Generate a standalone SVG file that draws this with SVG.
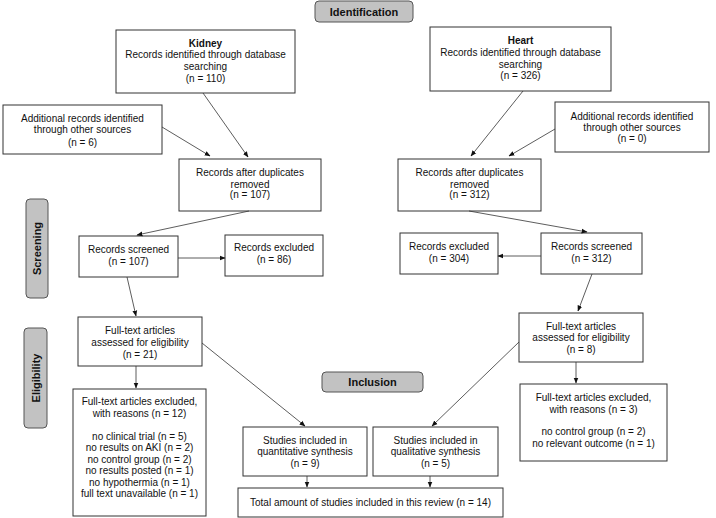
<svg xmlns="http://www.w3.org/2000/svg" width="716" height="518" viewBox="0 0 716 518">
<style>
.box{fill:#fff;stroke:#333;stroke-width:1}
.lab{fill:#c2c2c2;stroke:#555;stroke-width:1}
text{font-family:"Liberation Sans",Arial,sans-serif;font-size:10px;fill:#111;text-anchor:middle}
.b{font-weight:bold}
.lt{font-weight:bold;font-size:11px}
.c{stroke:#333;stroke-width:0.8;fill:none;marker-end:url(#ah)}
</style>
<defs>
<marker id="ah" viewBox="0 0 10 10" refX="9" refY="5" markerWidth="6" markerHeight="6" markerUnits="userSpaceOnUse" orient="auto">
<path d="M0,1 L10,5 L0,9 z" fill="#111"/>
</marker>
</defs>
<rect width="716" height="518" fill="#fff"/>

<g id="label-identification"><rect class="lab" x="315" y="1" width="98" height="21" rx="4"/><text class="lt" x="364" y="15.5">Identification</text></g>
<g id="label-screening"><rect class="lab" x="26" y="199" width="22" height="99" rx="4"/><text class="lt" transform="translate(41 248.5) rotate(-90)">Screening</text></g>
<g id="label-eligibility"><rect class="lab" x="24" y="328" width="23" height="100" rx="4"/><text class="lt" transform="translate(39.5 378) rotate(-90)">Eligibility</text></g>
<g id="label-inclusion"><rect class="lab" x="322" y="372" width="101" height="20" rx="4"/><text class="lt" x="372.5" y="386">Inclusion</text></g>

<g id="kidney-db"><rect class="box" x="116" y="30" width="179" height="63"/>
<text x="205.5" y="47" class="b">Kidney</text><text x="205.5" y="58">Records identified through database</text><text x="205.5" y="69.5">searching</text><text x="205.5" y="82">(n = 110)</text></g>
<g id="heart-db"><rect class="box" x="430" y="27" width="181" height="64"/>
<text x="520.5" y="44" class="b">Heart</text><text x="520.5" y="56">Records identified through database</text><text x="520.5" y="67.5">searching</text><text x="520.5" y="78.5">(n = 326)</text></g>
<g id="kidney-other"><rect class="box" x="3" y="105" width="159" height="49"/>
<text x="82.5" y="122">Additional records identified</text><text x="82.5" y="133">through other sources</text><text x="82.5" y="146">(n = 6)</text></g>
<g id="heart-other"><rect class="box" x="555" y="102" width="154" height="50"/>
<text x="632" y="119.5">Additional records identified</text><text x="632" y="131">through other sources</text><text x="632" y="142">(n = 0)</text></g>
<g id="kidney-dup"><rect class="box" x="179" y="159" width="142" height="52"/>
<text x="250" y="176">Records after duplicates</text><text x="250" y="187.5">removed</text><text x="250" y="198">(n = 107)</text></g>
<g id="heart-dup"><rect class="box" x="398" y="159" width="143" height="52"/>
<text x="469.5" y="176">Records after duplicates</text><text x="469.5" y="187.5">removed</text><text x="469.5" y="198">(n = 312)</text></g>
<g id="kidney-screened"><rect class="box" x="79" y="236" width="99" height="41"/>
<text x="128.5" y="253">Records screened</text><text x="128.5" y="264.5">(n = 107)</text></g>
<g id="kidney-excluded"><rect class="box" x="225" y="235" width="98" height="41"/>
<text x="274" y="251">Records excluded</text><text x="274" y="262.5">(n = 86)</text></g>
<g id="heart-excluded"><rect class="box" x="400" y="233" width="98" height="41"/>
<text x="449" y="250">Records excluded</text><text x="449" y="262">(n = 304)</text></g>
<g id="heart-screened"><rect class="box" x="541" y="233" width="101" height="41"/>
<text x="591.5" y="250">Records screened</text><text x="591.5" y="262">(n = 312)</text></g>
<g id="kidney-fulltext"><rect class="box" x="78" y="317" width="124" height="49"/>
<text x="140" y="334">Full-text articles</text><text x="140" y="346">assessed for eligibility</text><text x="140" y="357.5">(n = 21)</text></g>
<g id="heart-fulltext"><rect class="box" x="519" y="313" width="124" height="49"/>
<text x="581" y="329.5">Full-text articles</text><text x="581" y="341">assessed for eligibility</text><text x="581" y="352.5">(n = 8)</text></g>
<g id="kidney-ft-excluded"><rect class="box" x="73" y="389" width="133" height="127"/>
<text x="139.5" y="405">Full-text articles excluded,</text><text x="139.5" y="416.5">with reasons (n = 12)</text>
<text x="139.5" y="439.5">no clinical trial (n = 5)</text><text x="139.5" y="451">no results on AKI (n = 2)</text><text x="139.5" y="462.5">no control group (n = 2)</text><text x="139.5" y="474">no results posted (n = 1)</text><text x="139.5" y="485.5">no hypothermia (n = 1)</text><text x="139.5" y="497">full text unavailable (n = 1)</text></g>
<g id="heart-ft-excluded"><rect class="box" x="520" y="384" width="147" height="77"/>
<text x="593.5" y="401">Full-text articles excluded,</text><text x="593.5" y="413">with reasons (n = 3)</text>
<text x="593.5" y="435">no control group (n = 2)</text><text x="593.5" y="447">no relevant outcome (n = 1)</text></g>
<g id="quantitative"><rect class="box" x="243" y="427" width="124" height="49"/>
<text x="305" y="443.5">Studies included in</text><text x="305" y="455">quantitative synthesis</text><text x="305" y="467">(n = 9)</text></g>
<g id="qualitative"><rect class="box" x="373" y="427" width="125" height="49"/>
<text x="435.5" y="443.5">Studies included in</text><text x="435.5" y="455">qualitative synthesis</text><text x="435.5" y="467">(n = 5)</text></g>
<g id="total"><rect class="box" x="238" y="488" width="265" height="29"/>
<text x="370.5" y="506">Total amount of studies included in this review (n = 14)</text></g>

<g id="connectors">
<line class="c" x1="203" y1="93" x2="248" y2="157"/>
<line class="c" x1="162" y1="127" x2="210" y2="156"/>
<line class="c" x1="523" y1="91" x2="471" y2="156"/>
<line class="c" x1="555" y1="129" x2="509" y2="156"/>
<line class="c" x1="249" y1="211" x2="137" y2="235"/>
<line class="c" x1="178" y1="258" x2="225" y2="258"/>
<line class="c" x1="127" y1="277" x2="136" y2="316"/>
<line class="c" x1="469" y1="211" x2="587" y2="232"/>
<line class="c" x1="541" y1="256" x2="498" y2="256"/>
<line class="c" x1="592" y1="274" x2="578" y2="311"/>
<line class="c" x1="136" y1="366" x2="136" y2="388"/>
<line class="c" x1="202" y1="343" x2="305" y2="426"/>
<line class="c" x1="519" y1="342" x2="432" y2="426"/>
<line class="c" x1="576" y1="362" x2="576" y2="383"/>
<line class="c" x1="307" y1="476" x2="307" y2="487"/>
<line class="c" x1="430" y1="476" x2="430" y2="487"/>
</g>
</svg>
